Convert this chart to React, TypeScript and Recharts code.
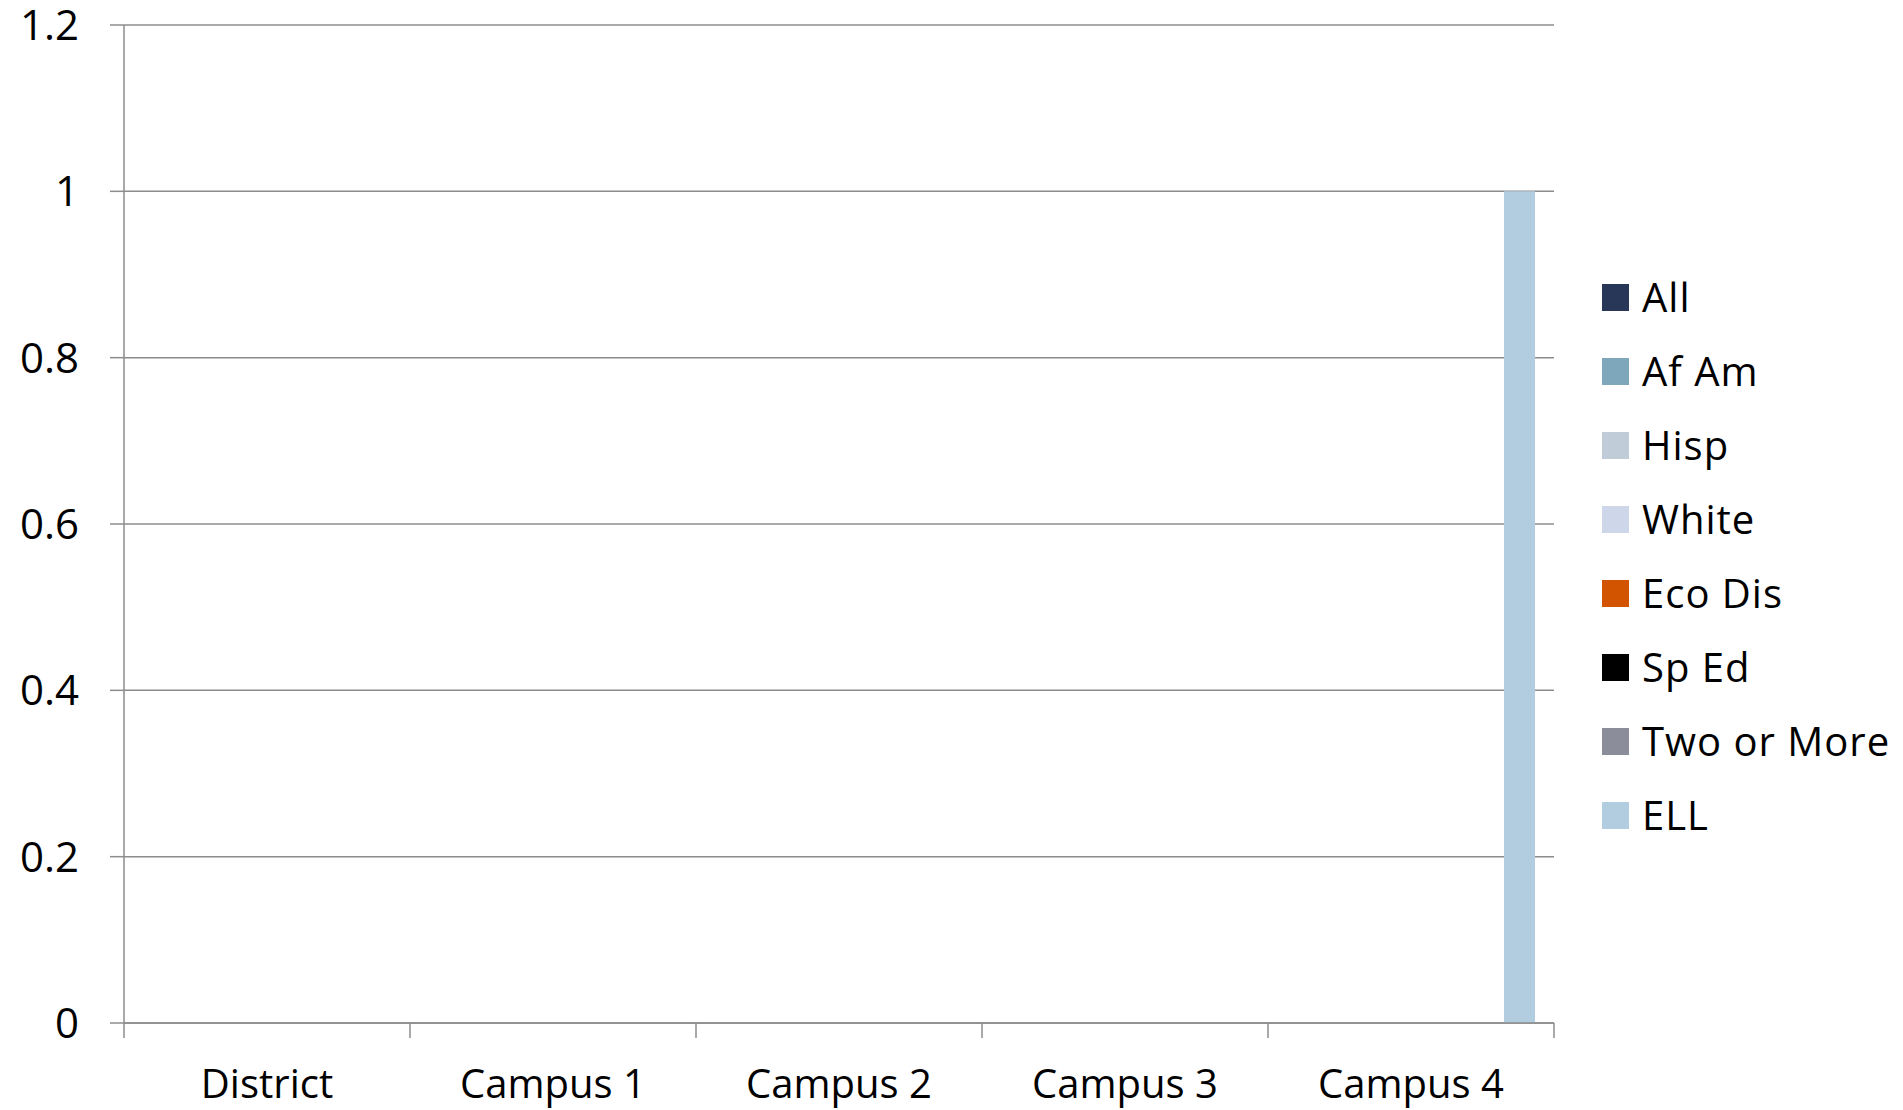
import React from 'react';
import { BarChart, Bar, XAxis, YAxis, CartesianGrid, Legend } from 'recharts';

const categories = ['District', 'Campus 1', 'Campus 2', 'Campus 3', 'Campus 4'];
const seriesNames = ['All', 'Af Am', 'Hisp', 'White', 'Eco Dis', 'Sp Ed', 'Two or More', 'ELL'];
const seriesColors = ['#283758', '#7ea7bc', '#c0ccd7', '#ced7ea', '#d35400', '#000000', '#8b8d9b', '#b3cde0'];
const allValues = [0, 0, 0, 0, 0];
const afAmValues = [0, 0, 0, 0, 0];
const hispValues = [0, 0, 0, 0, 0];
const whiteValues = [0, 0, 0, 0, 0];
const ecoDisValues = [0, 0, 0, 0, 0];
const spEdValues = [0, 0, 0, 0, 0];
const twoOrMoreValues = [0, 0, 0, 0, 0];
const ellValues = [0, 0, 0, 0, 1];
const yTicks = [0, 0.2, 0.4, 0.6, 0.8, 1, 1.2];

const seriesValues = [allValues, afAmValues, hispValues, whiteValues, ecoDisValues, spEdValues, twoOrMoreValues, ellValues];

const data = categories.map((name, i) => {
  const row: Record<string, string | number> = { name };
  seriesNames.forEach((s, j) => {
    row[s] = seriesValues[j][i];
  });
  return row;
});

const FONT = '"Open Sans", sans-serif';
const AXIS_GRAY = '#8c8c8c';

const CategoryTick = (props: any) => {
  const { x, y, payload, index, width } = props;
  const band = width / categories.length;
  const left = x - band / 2;
  const right = x + band / 2;
  return (
    <g>
      <line x1={left} x2={left} y1={y} y2={y + 15} stroke={AXIS_GRAY} strokeWidth={1.5} />
      {index === categories.length - 1 && (
        <line x1={right} x2={right} y1={y} y2={y + 15} stroke={AXIS_GRAY} strokeWidth={1.5} />
      )}
      <text x={x} y={y + 75} textAnchor="middle" fontFamily={FONT} fontSize={40} fill="#000">
        {payload.value}
      </text>
    </g>
  );
};

const LegendContent = (props: any) => {
  const items = [...(props.payload || [])].sort(
    (a: any, b: any) => seriesNames.indexOf(a.value) - seriesNames.indexOf(b.value)
  );
  return (
    <div style={{ fontFamily: FONT }}>
      {items.map((item: any) => (
        <div key={item.value} style={{ height: 74, display: 'flex', alignItems: 'center' }}>
          <div style={{ width: 27, height: 27, background: item.color, marginRight: 13, flexShrink: 0 }} />
          <span
            style={{
              fontSize: 40,
              color: '#000',
              letterSpacing: 1,
              whiteSpace: 'nowrap',
              lineHeight: '74px',
            }}
          >
            {item.value}
          </span>
        </div>
      ))}
    </div>
  );
};

export default function App() {
  return (
    <div style={{ position: 'absolute', left: 0, top: 0, width: 1903, height: 1110, background: '#fff' }}>
      <BarChart
        width={1903}
        height={1110}
        data={data}
        margin={{ top: 25, right: 349, bottom: 0, left: 0 }}
        barCategoryGap={19}
        barGap={0}
      >
        <CartesianGrid vertical={false} stroke={AXIS_GRAY} strokeWidth={1.5} />
        <XAxis
          dataKey="name"
          height={87}
          axisLine={{ stroke: AXIS_GRAY, strokeWidth: 1.5 }}
          tickLine={false}
          tickSize={0}
          tickMargin={0}
          interval={0}
          tick={<CategoryTick />}
        />
        <YAxis
          width={124}
          domain={[0, 1.2]}
          ticks={yTicks}
          interval={0}
          axisLine={{ stroke: AXIS_GRAY, strokeWidth: 1.5 }}
          tickLine={{ stroke: AXIS_GRAY, strokeWidth: 1.5 }}
          tickSize={14}
          tickMargin={31}
          tick={{ fontFamily: FONT, fontSize: 42, fill: '#000' }}
        />
        <Legend
          layout="vertical"
          align="center"
          verticalAlign="middle"
          content={<LegendContent />}
          wrapperStyle={{ left: 1602, top: 260, width: 301, height: 592 }}
        />
        {seriesNames.map((s, j) => (
          <Bar key={s} dataKey={s} fill={seriesColors[j]} isAnimationActive={false} />
        ))}
      </BarChart>
    </div>
  );
}
